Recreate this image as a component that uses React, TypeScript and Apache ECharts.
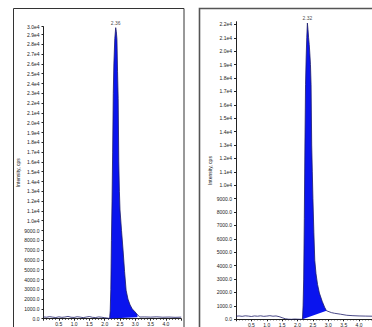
import React, { useEffect, useRef } from "react";
import * as echarts from "echarts";

// Left chromatogram (time, min / intensity, cps)
const LEFT_TIME = [
  0.0, 0.1, 0.2, 0.3, 0.4, 0.5, 0.6, 0.7, 0.8, 0.9, 1.0, 1.1, 1.2, 1.3, 1.4, 1.5, 1.6, 1.7, 1.8, 1.9, 2.0, 2.1,
  2.16, 2.18, 2.2, 2.22, 2.24, 2.26, 2.28, 2.3, 2.33, 2.36, 2.38, 2.4, 2.42, 2.44, 2.46, 2.48, 2.5, 2.55, 2.6,
  2.65, 2.7, 2.76, 2.83, 2.9, 2.99, 3.07, 3.15, 3.3, 3.5, 3.7, 3.9, 4.1, 4.3, 4.5,
];
const LEFT_INTENSITY = [
  180, 150, 210, 160, 120, 190, 140, 170, 230, 150, 130, 200, 160, 110, 170, 220, 140, 120, 180, 150, 100, 60,
  20, 800, 3000, 8000, 12000, 17000, 23000, 26000, 28600, 29700, 29300, 28500, 25200, 22500, 16000, 13000, 11100, 9000, 7000,
  4800, 2900, 2000, 1400, 1000, 700, 400, 170, 180, 160, 190, 150, 170, 140, 160,
];
const LEFT_BASE_TIME = [2.16, 3.07];
const LEFT_BASE_INTENSITY = [20, 150];
const LEFT_PEAK_LABEL = "2.36";

// Right chromatogram
const RIGHT_TIME = [
  0.0, 0.1, 0.2, 0.3, 0.4, 0.5, 0.6, 0.7, 0.8, 0.9, 1.0, 1.1, 1.2, 1.3, 1.4, 1.5, 1.6, 1.7, 1.8, 1.9, 2.0, 2.1,
  2.16, 2.18, 2.2, 2.22, 2.24, 2.26, 2.28, 2.3, 2.32, 2.34, 2.36, 2.38, 2.4, 2.42, 2.44, 2.46, 2.48, 2.5, 2.53,
  2.56, 2.6, 2.65, 2.71, 2.8, 2.88, 2.94, 3.1, 3.2, 3.4, 3.6, 3.8, 4.0, 4.2, 4.43,
];
const RIGHT_INTENSITY = [
  230, 250, 220, 260, 240, 210, 250, 230, 260, 220, 240, 270, 230, 250, 200, 120, 40, 10, 0, 20, 10, 0,
  0, 1000, 3000, 7500, 13000, 17500, 19500, 21000, 22100, 21600, 21000, 20500, 19800, 19000, 17500, 13000, 11000, 9000, 6500,
  4400, 3400, 2600, 1960, 1350, 900, 640, 500, 450, 380, 300, 270, 250, 240, 230,
];
const RIGHT_BASE_TIME = [2.16, 2.94];
const RIGHT_BASE_INTENSITY = [0, 640];
const RIGHT_PEAK_LABEL = "2.32";

const FILL = "#0a14ee";
const TRACE = "#1c1c6a";
const AXIS = "#222";
const FONT = "Liberation Sans, Arial, sans-serif";

const pairs = (t: number[], v: number[]) => t.map((x, i) => [x, v[i]]);

const yFmt = (v: number) => (v >= 10000 ? (v / 10000).toFixed(1) + "e4" : v.toFixed(1));

function peakIndex(v: number[]) {
  let k = 0;
  v.forEach((x, i) => {
    if (x > v[k]) k = i;
  });
  return k;
}

function panelSeries(
  idx: number,
  time: number[],
  inten: number[],
  baseT: number[],
  baseI: number[],
  peakLabel: string
) {
  const pk = peakIndex(inten);
  return [
    {
      type: "custom",
      xAxisIndex: idx,
      yAxisIndex: idx,
      z: 2,
      data: [[baseT[0], baseI[0]]],
      renderItem: (_p: any, api: any) => {
        const pts: number[][] = [];
        time.forEach((t, i) => {
          if (t >= baseT[0] && t <= baseT[1]) pts.push(api.coord([t, inten[i]]));
        });
        pts.push(api.coord([baseT[1], baseI[1]]));
        pts.push(api.coord([baseT[0], baseI[0]]));
        return { type: "polygon", shape: { points: pts }, style: { fill: FILL } };
      },
    },
    {
      type: "line",
      xAxisIndex: idx,
      yAxisIndex: idx,
      z: 3,
      showSymbol: false,
      data: pairs(time, inten),
      lineStyle: { color: TRACE, width: 0.8 },
    },
    {
      type: "scatter",
      xAxisIndex: idx,
      yAxisIndex: idx,
      z: 4,
      symbolSize: 1,
      itemStyle: { color: "rgba(0,0,0,0)" },
      data: [[time[pk], inten[pk]]],
      label: {
        show: true,
        position: "top",
        distance: 2,
        formatter: peakLabel,
        fontSize: 5,
        color: "#111",
        fontFamily: FONT,
      },
    },
  ];
}

function xAxis(idx: number, max: number) {
  return {
    type: "value",
    gridIndex: idx,
    min: 0,
    max,
    interval: 0.5,
    name: "Time, min",
    nameLocation: "middle",
    nameGap: 9,
    nameTextStyle: { fontSize: 5, color: "#111", fontFamily: FONT },
    axisLine: { show: true, lineStyle: { color: AXIS, width: 1 } },
    axisTick: { show: true, length: 2, lineStyle: { color: AXIS } },
    minorTick: { show: true, splitNumber: 5, length: 1, lineStyle: { color: AXIS } },
    splitLine: { show: false },
    axisLabel: {
      fontSize: 5,
      color: "#222",
      margin: 3,
      fontFamily: FONT,
      showMinLabel: false,
      showMaxLabel: false,
      formatter: (v: number) => v.toFixed(1),
    },
  };
}

function yAxis(idx: number, max: number, gap: number) {
  return {
    type: "value",
    gridIndex: idx,
    min: 0,
    max,
    interval: 1000,
    name: "Intensity, cps",
    nameLocation: "middle",
    nameRotate: 90,
    nameGap: gap,
    nameTextStyle: { fontSize: 5, color: "#111", fontFamily: FONT },
    axisLine: { show: true, lineStyle: { color: AXIS, width: 1 } },
    axisTick: { show: true, length: 2, lineStyle: { color: AXIS } },
    splitLine: { show: false },
    axisLabel: {
      fontSize: 5,
      color: "#222",
      margin: 4,
      fontFamily: FONT,
      formatter: yFmt,
    },
  };
}

export default function App() {
  const ref = useRef<HTMLDivElement>(null);
  useEffect(() => {
    if (!ref.current) return;
    const chart = echarts.init(ref.current, null, { renderer: "svg" });
    chart.setOption({
      animation: false,
      backgroundColor: "#fff",
      grid: [
        { left: 43.5, top: 26.7, width: 137.7, bottom: 8.3, outerBoundsMode: "none", containLabel: false },
        { left: 236, top: 21.7, width: 136, bottom: 7.7, outerBoundsMode: "none", containLabel: false },
      ],
      xAxis: [xAxis(0, 4.5), xAxis(1, 4.42)],
      yAxis: [yAxis(0, 29800, 18), yAxis(1, 22200, 17)],
      series: [
        ...panelSeries(0, LEFT_TIME, LEFT_INTENSITY, LEFT_BASE_TIME, LEFT_BASE_INTENSITY, LEFT_PEAK_LABEL),
        ...panelSeries(1, RIGHT_TIME, RIGHT_INTENSITY, RIGHT_BASE_TIME, RIGHT_BASE_INTENSITY, RIGHT_PEAK_LABEL),
      ],
      graphic: [
        {
          type: "rect",
          shape: { x: 13.5, y: 8.5, width: 170.5, height: 340 },
          style: { fill: "none", stroke: "#333", lineWidth: 1 },
          z: 10,
        },
        {
          type: "rect",
          shape: { x: 199.5, y: 8.5, width: 200, height: 340 },
          style: { fill: "none", stroke: "#555", lineWidth: 1.6 },
          z: 10,
        },
      ],
    });
    return () => chart.dispose();
  }, []);
  return (
    <div
      ref={ref}
      style={{ position: "fixed", left: 0, top: 0, width: 372, height: 327, background: "#fff" }}
    />
  );
}
